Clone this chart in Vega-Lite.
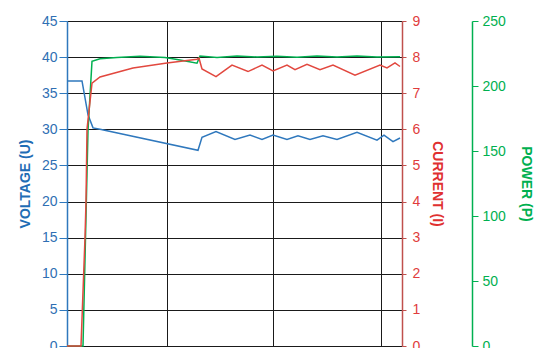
{
  "$schema": "https://vega.github.io/schema/vega-lite/v6.json",
  "autosize": "none",
  "width": 335,
  "height": 325,
  "padding": {"left": 67, "top": 21, "right": 136, "bottom": 2},
  "background": "white",
  "config": {
    "view": {"stroke": null},
    "font": "Liberation Sans",
    "axis": {"labelFont": "Liberation Sans", "titleFont": "Liberation Sans"}
  },
  "datasets": {
    "voltage": [
      {"t": 0, "v": 36.7}, {"t": 15, "v": 36.7}, {"t": 21, "v": 32.0}, {"t": 26, "v": 30.2},
      {"t": 33, "v": 30.0}, {"t": 131, "v": 27.1}, {"t": 135, "v": 28.9}, {"t": 149, "v": 29.7},
      {"t": 168, "v": 28.6}, {"t": 183, "v": 29.2}, {"t": 195, "v": 28.6}, {"t": 206, "v": 29.2},
      {"t": 220, "v": 28.6}, {"t": 231, "v": 29.1}, {"t": 243, "v": 28.6}, {"t": 256, "v": 29.1},
      {"t": 270, "v": 28.6}, {"t": 290, "v": 29.6}, {"t": 310, "v": 28.5}, {"t": 317, "v": 29.2},
      {"t": 326, "v": 28.3}, {"t": 333, "v": 28.8}
    ],
    "current": [
      {"t": 0, "i": 0}, {"t": 14, "i": 0}, {"t": 18, "i": 3.0}, {"t": 19, "i": 4.0},
      {"t": 20, "i": 6.0}, {"t": 25, "i": 7.28}, {"t": 33, "i": 7.45}, {"t": 66, "i": 7.7},
      {"t": 100, "i": 7.84}, {"t": 130, "i": 7.94}, {"t": 132, "i": 7.97}, {"t": 135, "i": 7.67},
      {"t": 149, "i": 7.46}, {"t": 165, "i": 7.78}, {"t": 181, "i": 7.6}, {"t": 195, "i": 7.78},
      {"t": 206, "i": 7.62}, {"t": 220, "i": 7.78}, {"t": 228, "i": 7.65}, {"t": 240, "i": 7.8},
      {"t": 253, "i": 7.65}, {"t": 266, "i": 7.78}, {"t": 288, "i": 7.5}, {"t": 313, "i": 7.78},
      {"t": 320, "i": 7.7}, {"t": 328, "i": 7.84}, {"t": 333, "i": 7.74}
    ],
    "power": [
      {"t": 0, "p": 0}, {"t": 16, "p": 0}, {"t": 21, "p": 166}, {"t": 25, "p": 219},
      {"t": 33, "p": 221}, {"t": 50, "p": 222}, {"t": 73, "p": 222.8}, {"t": 98, "p": 222},
      {"t": 113, "p": 220}, {"t": 130, "p": 217.5}, {"t": 133, "p": 223}, {"t": 150, "p": 222},
      {"t": 170, "p": 223}, {"t": 190, "p": 222.3}, {"t": 210, "p": 222.8}, {"t": 230, "p": 222.2},
      {"t": 250, "p": 223}, {"t": 270, "p": 222.3}, {"t": 290, "p": 223}, {"t": 310, "p": 222.3},
      {"t": 333, "p": 222.5}
    ]
  },
  "layer": [
    {
      "data": {"name": "voltage"},
      "mark": {"type": "line", "color": "#2f78bd", "strokeWidth": 1.5},
      "encoding": {
        "x": {
          "field": "t", "type": "quantitative",
          "scale": {"domain": [0, 335], "nice": false, "zero": false},
          "axis": {"values": [100, 206, 314], "grid": true, "gridColor": "#1a1a1a", "gridOpacity": 1, "gridWidth": 1, "labels": false, "ticks": false, "domain": false, "title": null}
        },
        "y": {
          "field": "v", "type": "quantitative",
          "scale": {"domain": [0, 45], "nice": false},
          "axis": {
            "orient": "left", "values": [0, 5, 10, 15, 20, 25, 30, 35, 40, 45],
            "grid": true, "gridColor": "#1a1a1a", "gridOpacity": 1, "gridWidth": 1,
            "domainColor": "#2f78bd", "domainWidth": 1.5, "tickColor": "#2f78bd", "tickSize": 8,
            "labelColor": "#2f6fb3", "labelFontSize": 14, "labelPadding": 2,
            "title": "VOLTAGE (U)", "titleColor": "#1f6db5", "titleFontSize": 14, "titleFontWeight": "bold", "titlePadding": 9
          }
        }
      }
    },
    {
      "data": {"name": "power"},
      "mark": {"type": "line", "color": "#00b050", "strokeWidth": 1.5},
      "encoding": {
        "x": {"field": "t", "type": "quantitative"},
        "y": {
          "field": "p", "type": "quantitative",
          "scale": {"domain": [0, 250], "nice": false},
          "axis": {
            "orient": "right", "offset": 70, "values": [0, 50, 100, 150, 200, 250], "grid": false,
            "domainColor": "#00b050", "domainWidth": 1.5, "tickColor": "#00b050", "tickSize": 6,
            "labelColor": "#00b050", "labelFontSize": 14, "labelPadding": 4,
            "title": "POWER (P)", "titleColor": "#00b050", "titleFontSize": 14, "titleFontWeight": "bold", "titlePadding": 13
          }
        }
      }
    },
    {
      "data": {"name": "current"},
      "mark": {"type": "line", "color": "#e2483f", "strokeWidth": 1.5},
      "encoding": {
        "x": {"field": "t", "type": "quantitative"},
        "y": {
          "field": "i", "type": "quantitative",
          "scale": {"domain": [0, 9], "nice": false},
          "axis": {
            "orient": "right", "values": [0, 1, 2, 3, 4, 5, 6, 7, 8, 9], "grid": false,
            "domainColor": "#c0504d", "domainWidth": 1.5, "tickColor": "#c0504d", "tickSize": 4,
            "labelColor": "#e03c3c", "labelFontSize": 14, "labelPadding": 6,
            "title": "CURRENT (I)", "titleColor": "#e03030", "titleFontSize": 14, "titleFontWeight": "bold", "titlePadding": 10
          }
        }
      }
    }
  ],
  "resolve": {"scale": {"y": "independent"}, "axis": {"y": "independent"}}
}
